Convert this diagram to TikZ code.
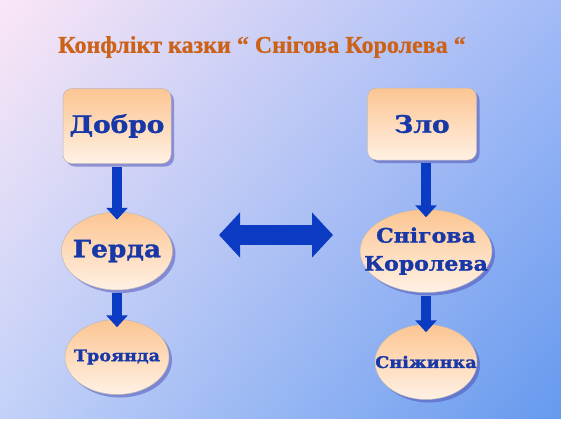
\documentclass[tikz,border=0pt]{standalone}
\usepackage{fontspec}
\setmainfont{Liberation Serif}
\newfontfamily\headfont{Liberation Serif}[UprightFont=* Bold, FakeBold=0.6]
\newfontfamily\boxfont{DejaVu Serif}[UprightFont=* Bold, FakeStretch=1.1, FakeBold=1.4]
\usetikzlibrary{arrows.meta,positioning,shapes.geometric,shadows,shadings}
\newcommand{\zerow}[1]{\makebox[0pt]{#1}}
\definecolor{peach}{HTML}{FCC592}
\definecolor{cream}{HTML}{FFF1E4}
\definecolor{inkblue}{HTML}{1838A8}
\definecolor{arrowblue}{HTML}{0A3BC2}
\definecolor{titlebrown}{HTML}{CC6218}
\definecolor{skypink}{HTML}{FBE6F6}
\definecolor{skyblue}{HTML}{A2BBF7}
\definecolor{skylav}{HTML}{C3D1F8}
\definecolor{skydeep}{HTML}{6699EE}

\begin{document}
\begin{tikzpicture}[x=1pt, y=-1pt,
    every node/.style={text=inkblue},
    title/.style={font=\headfont\fontsize{24}{26}\selectfont, text=titlebrown},
    card/.style={
      rectangle, rounded corners=9pt,
      draw=gray!55, line width=0.5pt,
      top color=peach, bottom color=cream,
      drop shadow={shadow xshift=3pt, shadow yshift=-3pt, fill=gray!60!blue},
      minimum width=108pt, minimum height=75pt,
      font=\boxfont\fontsize{24}{26}\selectfont
    },
    blob/.style={
      ellipse, inner sep=0pt,
      draw=gray!55, line width=0.5pt,
      top color=peach, bottom color=cream,
      drop shadow={shadow xshift=3pt, shadow yshift=-3pt, fill=gray!60!blue},
      font=\boxfont\fontsize{20}{28}\selectfont
    },
    down/.style={-{Triangle[width=21pt,length=12pt]}, line width=10pt, arrowblue,
      shorten <=3pt, shorten >=-8pt},
    both/.style={{Triangle[width=44pt,length=21pt]}-{Triangle[width=44pt,length=21pt]},
      line width=20pt, arrowblue}
  ]

    \fill[white] (0,0) rectangle (561,421);
    \shade[upper left=skypink, upper right=skyblue, lower left=skylav, lower right=skydeep]
      (0,0) rectangle (561,418);
    \useasboundingbox (0,0) rectangle (561,421);

    \node[title] (head) at (262,47) {Конфлікт казки “ Снігова Королева “};

    \node[card] (dobro) at (117,126) {Добро};
    \node[blob, minimum width=111pt, minimum height=78pt, font=\boxfont\fontsize{24}{26}\selectfont]
      (gerda) at (117,251) {\zerow{Герда}};
    \node[blob, minimum width=104pt, minimum height=75pt, font=\boxfont\fontsize{16}{18}\selectfont]
      (rose) at (117,357) {\zerow{Троянда}};

    \node[card, minimum width=109pt, minimum height=72pt] (zlo) at (422,124) {Зло};
    \node[blob, minimum width=132pt, minimum height=83pt] (queen) at (426,251)
      {\zerow{\begin{tabular}{@{}c@{}}Снігова\\Королева\end{tabular}}};
    \node[blob, minimum width=102pt, minimum height=75pt, font=\boxfont\fontsize{16}{18}\selectfont]
      (flake) at (426,362) {\zerow{Сніжинка}};

    \coordinate (left) at (219,235);
    \coordinate (right) at (333,235);

    \draw[down] (dobro) -- (gerda);
    \draw[down] (gerda) -- (rose);
    \draw[down] (queen.north |- zlo.south) -- (queen);
    \draw[down] (queen) -- (flake);
    \draw[both] (left) -- (right);

  \end{tikzpicture}
\end{document}
